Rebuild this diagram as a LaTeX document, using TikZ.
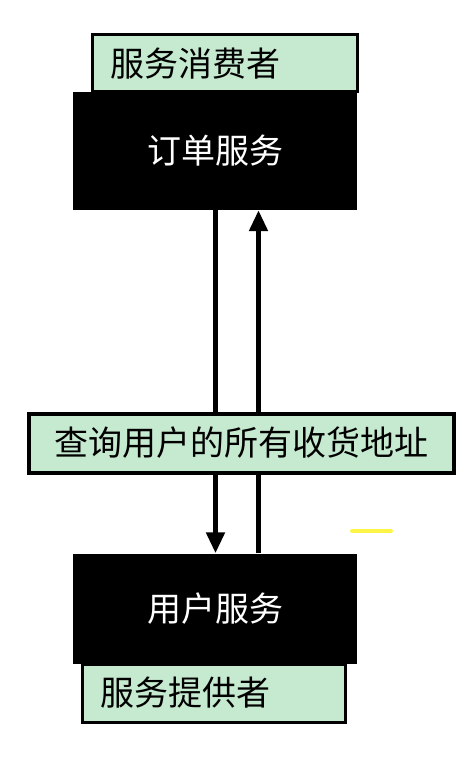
\documentclass[tikz,border=0pt]{standalone}
\usepackage{fontspec}
\newfontfamily\cjk{Noto Sans CJK SC}
\usetikzlibrary{arrows.meta}
\definecolor{mint}{RGB}{198,234,208}
\begin{document}
\begin{tikzpicture}[x=1pt,y=-1pt,
  labelbox/.style={draw=black, fill=mint, line width=3pt, inner sep=0pt,
    font=\cjk\fontsize{34}{36}\selectfont, text=black},
  servicebox/.style={fill=black, inner sep=0pt,
    font=\cjk\fontsize{34}{36}\selectfont, text=white},
  flow/.style={line width=5pt, -{Triangle[width=18pt,length=21pt]}}]
\useasboundingbox (0,0) rectangle (458,770);

% service consumer label and order service
\node[labelbox, minimum width=265pt, minimum height=57pt] (consumer) at (224.5,63.5) {};
\node[anchor=west, font=\cjk\fontsize{34}{36}\selectfont, inner sep=0pt] (consumertext) at (110,64) {服务消费者};
\node[servicebox, minimum width=284pt, minimum height=118pt] (order) at (215,151) {订单服务};

% user service and service provider label
\node[servicebox, minimum width=284pt, minimum height=110pt] (user) at (215,608.5) {用户服务};
\node[labelbox, minimum width=263pt, minimum height=58pt] (provider) at (213.5,693) {};
\node[anchor=west, font=\cjk\fontsize{34}{36}\selectfont, inner sep=0pt] (providertext) at (100,693) {服务提供者};

% request and response
\draw[flow] ([xshift=0.5pt]order.south) -- ([xshift=0.5pt]user.north);
\draw[flow] ([xshift=43.5pt]user.north) -- ([xshift=43.5pt]order.south);

% call description over the connectors
\node[labelbox, line width=4pt, minimum width=425pt, minimum height=59pt] (query) at (241,443) {查询用户的所有收货地址};

% small yellow highlight stroke
\draw[yellow!90!white, line width=4pt, line cap=round, opacity=0.8] (352,531) -- (391,531);
\end{tikzpicture}
\end{document}
